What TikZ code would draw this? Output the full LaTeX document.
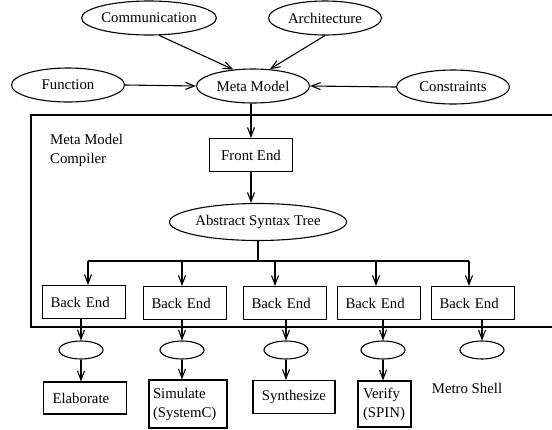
\documentclass[tikz,border=0pt]{standalone}
\usepackage{fontspec}
\setmainfont{Liberation Serif}
\usetikzlibrary{shapes.geometric,arrows.meta}
\begin{document}
\begin{tikzpicture}[x=1pt,y=-1pt,
  every node/.style={font=\fontsize{14.8}{19}\selectfont},
  line/.style={draw=black,line width=1.1pt},
  arr/.style={line,-{Straight Barb[length=9pt,width=7pt,line width=1.1pt]}},
  oval/.style={line,ellipse,inner sep=0pt,minimum width=113pt,minimum height=34pt},
  dot/.style={line,ellipse,inner sep=0pt,minimum width=44pt,minimum height=18pt},
  box/.style={line,rectangle,inner sep=0pt,minimum width=83pt,minimum height=33pt},
  lbox/.style={line,rectangle,inner ysep=0pt,inner xsep=8pt,text width=67pt,align=left,minimum height=33pt}]
\useasboundingbox (0,0) rectangle (552,429);
\fill[white] (0,0) rectangle (552,429);

% input models around the meta model
\node[oval] (comm) at (149,18) {Communication};
\node[oval] (arch) at (325,18) {Architecture};
\node[oval] (func) at (68,85) {Function};
\node[oval] (meta) at (253,86) {Meta Model};
\node[oval] (cons) at (453,87) {Constraints};

\draw[arr] (comm.-60) -- (meta.140);
\draw[arr] (arch.south) -- (meta.45);
\draw[arr] (func.east) -- (meta.west);
\draw[arr] (cons.west) -- (meta.east);

% compiler frame
\draw[line] (560,115) -- (31,115) -- (31,327) -- (560,327);
\node[anchor=north west,align=left,inner sep=0pt] (mmc) at (50,134) {Meta Model\\Compiler};

\node[box] (fe) at (251,155) {Front End};
\node[oval,minimum width=149pt,minimum height=37pt] (ast) at (258,222) {Abstract Syntax Tree};

\draw[arr] (meta.south -| fe.north) -- (fe.north);
\draw[arr] (fe.south) -- (fe.south |- ast.north);

% back ends
\node[lbox] (be1) at (84,302) {Back End};
\node[lbox] (be2) at (185,303) {Back End};
\node[lbox] (be3) at (285,303) {Back End};
\node[lbox] (be4) at (379,303) {Back End};
\node[lbox] (be5) at (473,303) {Back End};

\coordinate (t1) at (88,261);
\coordinate (t2) at (182,261);
\coordinate (t3) at (275,261);
\coordinate (t4) at (376,261);
\coordinate (t5) at (469,261);
\draw[line] (ast.south) -- (ast.south |- t1);
\draw[line] (t1) -- (t5);
\foreach \i in {1,...,5} {
  \draw[arr] (t\i) -- (t\i |- be\i.north);
}

% outputs
\node[dot] (o1) at (81,350) {};
\node[dot] (o2) at (182,350) {};
\node[dot] (o3) at (286,350) {};
\node[dot] (o4) at (383,350) {};
\node[dot] (o5) at (482,350) {};
\foreach \i in {1,...,5} {
  \draw[arr] (o\i.north |- be\i.south) -- (o\i.north);
}

\node[lbox,inner xsep=9pt,text width=65pt,minimum height=32pt] (r1) at (85,398) {Elaborate};
\node[line,rectangle,inner xsep=4pt,inner ysep=0pt,text width=70pt,align=left,minimum height=48pt] (r2) at (188,404) {Simulate\\(SystemC)};
\node[box,minimum width=82pt] (r3) at (294,397) {Synthesize};
\node[line,rectangle,inner xsep=5pt,inner ysep=0pt,text width=43pt,align=left,minimum height=46pt] (r4) at (384.5,404) {Verify\\(SPIN)};
\node (r5) at (467,388) {Metro Shell};

\draw[arr] (o1.south) -- (o1.south |- r1.north);
\draw[arr] (o2.south) -- (o2.south |- r2.north);
\draw[arr] (o3.south) -- (o3.south |- r3.north);
\draw[arr] (o4.south) -- (o4.south |- r4.north);
\end{tikzpicture}
\end{document}
